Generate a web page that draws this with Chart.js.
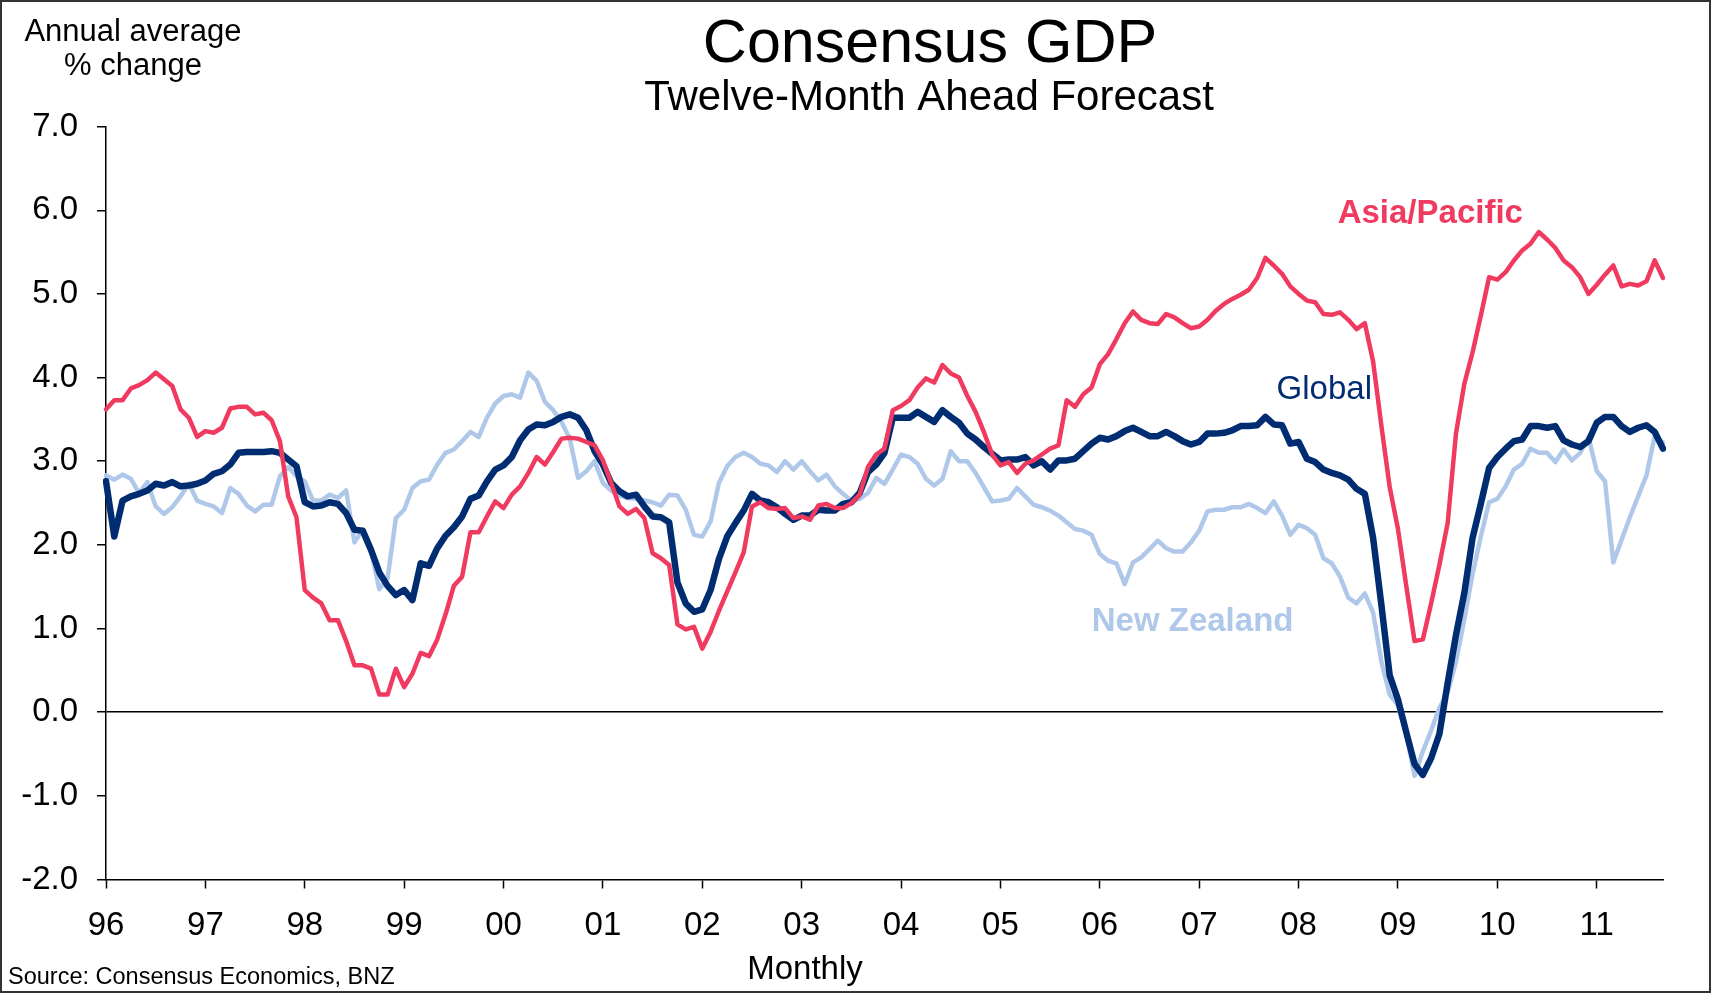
<!DOCTYPE html>
<html>
<head>
<meta charset="utf-8">
<title>Consensus GDP</title>
<script src="https://cdn.jsdelivr.net/npm/chart.js@4.4.1/dist/chart.umd.min.js"></script>
<style>
  html, body { margin: 0; padding: 0; background: #fff; }
</style>
</head>
<body>
<canvas id="gdpChart" width="1711" height="993"></canvas>
<script>
/*
  Consensus GDP - twelve-month ahead forecast
  Monthly, Jan 1996 to Sep 2011
*/

const yearLabels = ["96", "97", "98", "99", "00", "01", "02", "03", "04", "05", "06", "07", "08", "09", "10", "11"];
const monthNames = ["Jan", "Feb", "Mar", "Apr", "May", "Jun", "Jul", "Aug", "Sep", "Oct", "Nov", "Dec"];
const lastMonthOf2011 = 9; // data runs to September 2011

// Asia/Pacific (annual average % change)
const asiaPacific = [
  3.62, 3.73, 3.73, 3.87, 3.91, 3.97, 4.06, 3.98, 3.90, 3.62, 3.52, 3.29,
  3.36, 3.34, 3.40, 3.63, 3.65, 3.65, 3.56, 3.58, 3.49, 3.24, 2.58, 2.33,
  1.46, 1.37, 1.30, 1.10, 1.10, 0.85, 0.56, 0.56, 0.52, 0.21, 0.21, 0.52,
  0.30, 0.46, 0.71, 0.67, 0.87, 1.17, 1.51, 1.62, 2.15, 2.15, 2.34, 2.52,
  2.44, 2.60, 2.70, 2.86, 3.05, 2.96, 3.11, 3.27, 3.28, 3.27, 3.23, 3.19,
  3.01, 2.74, 2.46, 2.37, 2.43, 2.32, 1.90, 1.84, 1.76, 1.05, 0.99, 1.02,
  0.76, 0.96, 1.21, 1.44, 1.67, 1.91, 2.46, 2.51, 2.44, 2.43, 2.44, 2.32,
  2.34, 2.30, 2.47, 2.49, 2.44, 2.44, 2.50, 2.60, 2.93, 3.08, 3.15, 3.61,
  3.66, 3.73, 3.88, 3.99, 3.94, 4.15, 4.05, 4.00, 3.78, 3.59, 3.35, 3.08,
  2.95, 2.99, 2.86, 2.97, 3.01, 3.08, 3.15, 3.19, 3.73, 3.65, 3.80, 3.88,
  4.16, 4.28, 4.46, 4.65, 4.79, 4.69, 4.65, 4.64, 4.76, 4.72, 4.65, 4.59,
  4.61, 4.69, 4.80, 4.88, 4.94, 4.99, 5.05, 5.19, 5.43, 5.34, 5.24, 5.09,
  5.00, 4.92, 4.90, 4.76, 4.75, 4.78, 4.69, 4.58, 4.65, 4.19, 3.42, 2.69,
  2.19, 1.51, 0.85, 0.87, 1.30, 1.76, 2.26, 3.33, 3.92, 4.30, 4.74, 5.20,
  5.17, 5.26, 5.40, 5.52, 5.60, 5.74, 5.65, 5.55, 5.40, 5.32, 5.20, 5.00,
  5.11, 5.23, 5.34, 5.09, 5.12, 5.10, 5.15, 5.40, 5.19,
];

// Global
const globalGdp = [
  2.76, 2.10, 2.53, 2.58, 2.61, 2.65, 2.73, 2.71, 2.75, 2.70, 2.71, 2.73,
  2.77, 2.85, 2.88, 2.96, 3.10, 3.11, 3.11, 3.11, 3.12, 3.10, 3.02, 2.94,
  2.51, 2.46, 2.47, 2.51, 2.49, 2.38, 2.18, 2.17, 1.94, 1.67, 1.51, 1.40,
  1.46, 1.34, 1.78, 1.75, 1.96, 2.11, 2.21, 2.34, 2.55, 2.59, 2.76, 2.90,
  2.95, 3.05, 3.25, 3.38, 3.44, 3.43, 3.47, 3.53, 3.56, 3.52, 3.37, 3.12,
  2.96, 2.74, 2.64, 2.58, 2.60, 2.46, 2.34, 2.33, 2.27, 1.55, 1.30, 1.20,
  1.23, 1.46, 1.83, 2.10, 2.26, 2.41, 2.61, 2.53, 2.51, 2.45, 2.37, 2.30,
  2.35, 2.35, 2.42, 2.41, 2.41, 2.49, 2.51, 2.62, 2.87, 2.96, 3.10, 3.52,
  3.52, 3.52, 3.59, 3.53, 3.47, 3.61, 3.53, 3.46, 3.33, 3.26, 3.17, 3.09,
  3.01, 3.02, 3.02, 3.05, 2.95, 3.00, 2.90, 3.01, 3.01, 3.03, 3.12, 3.21,
  3.28, 3.26, 3.30, 3.36, 3.40, 3.35, 3.30, 3.30, 3.35, 3.30, 3.24, 3.20,
  3.23, 3.33, 3.33, 3.34, 3.37, 3.42, 3.42, 3.43, 3.53, 3.44, 3.43, 3.21,
  3.23, 3.03, 2.99, 2.90, 2.86, 2.83, 2.78, 2.67, 2.61, 2.08, 1.28, 0.44,
  0.15, -0.24, -0.62, -0.75, -0.55, -0.26, 0.35, 0.92, 1.42, 2.08, 2.49, 2.92,
  3.05, 3.15, 3.24, 3.26, 3.42, 3.42, 3.40, 3.42, 3.25, 3.20, 3.17, 3.24,
  3.46, 3.53, 3.53, 3.42, 3.35, 3.40, 3.43, 3.35, 3.15,
];

// New Zealand
const newZealand = [
  2.83, 2.78, 2.84, 2.79, 2.62, 2.75, 2.46, 2.37, 2.45, 2.58, 2.73, 2.53,
  2.49, 2.46, 2.38, 2.68, 2.61, 2.47, 2.40, 2.48, 2.48, 2.82, 2.93, 2.82,
  2.76, 2.53, 2.53, 2.60, 2.56, 2.65, 2.03, 2.18, 1.93, 1.47, 1.60, 2.32,
  2.42, 2.68, 2.76, 2.78, 2.96, 3.10, 3.14, 3.24, 3.35, 3.29, 3.52, 3.69,
  3.78, 3.80, 3.76, 4.06, 3.96, 3.71, 3.61, 3.47, 3.27, 2.80, 2.88, 3.00,
  2.74, 2.65, 2.59, 2.56, 2.55, 2.53, 2.51, 2.47, 2.60, 2.59, 2.42, 2.12,
  2.10, 2.28, 2.74, 2.94, 3.05, 3.10, 3.05, 2.97, 2.95, 2.87, 3.00, 2.90,
  3.00, 2.88, 2.77, 2.84, 2.70, 2.61, 2.53, 2.55, 2.62, 2.80, 2.73, 2.90,
  3.08, 3.05, 2.97, 2.79, 2.71, 2.79, 3.12, 3.00, 3.00, 2.86, 2.69, 2.52,
  2.53, 2.55, 2.68, 2.58, 2.48, 2.45, 2.41, 2.35, 2.27, 2.19, 2.17, 2.12,
  1.89, 1.81, 1.78, 1.53, 1.79, 1.85, 1.95, 2.05, 1.96, 1.92, 1.92, 2.03,
  2.17, 2.40, 2.42, 2.42, 2.45, 2.45, 2.49, 2.44, 2.38, 2.52, 2.35, 2.12,
  2.24, 2.20, 2.12, 1.84, 1.78, 1.62, 1.37, 1.30, 1.42, 1.19, 0.60, 0.21,
  0.08, -0.26, -0.76, -0.47, -0.22, 0.05, 0.24, 0.60, 1.10, 1.65, 2.10, 2.51,
  2.55, 2.70, 2.90, 2.97, 3.15, 3.10, 3.10, 2.99, 3.14, 3.01, 3.10, 3.29,
  2.88, 2.76, 1.79, 2.06, 2.33, 2.58, 2.83, 3.30, 3.22,
];

// Month categories: Jan-96 ... Sep-11
const months = [];
yearLabels.forEach((yy, yearIndex) => {
  const count = yearIndex === yearLabels.length - 1 ? lastMonthOf2011 : 12;
  for (let m = 0; m < count; m++) months.push(`${monthNames[m]}-${yy}`);
});

const COLORS = {
  asia: "#f03a5f",
  global: "#002d72",
  nz: "#afc8ea",
};

const FONT = "'Liberation Sans', Arial, Helvetica, sans-serif";

/**
 * Titles, axis notes and the in-plot series labels.
 */
const chartTextPlugin = {
  id: "chartText",
  beforeDraw(chart) {
    const { ctx, width, height } = chart;
    ctx.save();
    ctx.fillStyle = "#ffffff";
    ctx.fillRect(0, 0, width, height);
    ctx.restore();
  },
  afterDraw(chart) {
    const { ctx, width, height } = chart;
    const xScale = chart.scales.x;
    const yScale = chart.scales.y;

    const text = (str, x, y, size, opts = {}) => {
      ctx.font = `${opts.weight || "normal"} ${size}px ${FONT}`;
      ctx.fillStyle = opts.color || "#000";
      ctx.textAlign = opts.align || "center";
      ctx.textBaseline = opts.baseline || "alphabetic";
      ctx.fillText(str, x, y);
    };

    ctx.save();
    text("Consensus GDP", 930, 62, 61);
    text("Twelve-Month Ahead Forecast", 929, 110, 42);
    text("Annual average", 133, 41, 31);
    text("% change", 133, 75, 31);
    text("Monthly", 805, 979, 33);
    text("Source: Consensus Economics, BNZ", 8, 984, 23.5, { align: "left" });

    // Series names sit inside the plot, placed in data units
    const seriesNames = [
      { str: "Asia/Pacific", at: [159.9, 5.955], color: COLORS.asia, weight: "bold" },
      { str: "Global", at: [147.1, 3.85], color: COLORS.global, weight: "normal" },
      { str: "New Zealand", at: [131.2, 1.08], color: COLORS.nz, weight: "bold" },
    ];
    seriesNames.forEach((s) => {
      text(s.str, xScale.getPixelForValue(s.at[0]), yScale.getPixelForValue(s.at[1]), 33, {
        color: s.color,
        weight: s.weight,
        baseline: "middle",
      });
    });

    // Frame round the whole picture
    ctx.strokeStyle = "#333";
    ctx.lineWidth = 2;
    ctx.strokeRect(1, 1, width - 2, height - 2);
    ctx.restore();
  },
};

function lineDataset(label, data, color, width) {
  return {
    label,
    data,
    borderColor: color,
    backgroundColor: color,
    borderWidth: width,
    pointRadius: 0,
    tension: 0,
    fill: false,
    borderJoinStyle: "round",
    borderCapStyle: "round",
  };
}

new Chart(document.getElementById("gdpChart"), {
  type: "line",
  data: {
    labels: months,
    datasets: [
      lineDataset("Asia/Pacific", asiaPacific, COLORS.asia, 4.5),
      lineDataset("Global", globalGdp, COLORS.global, 6.5),
      lineDataset("New Zealand", newZealand, COLORS.nz, 4.5),
    ],
  },
  options: {
    responsive: false,
    animation: false,
    layout: { padding: { top: 126.6, right: 48, bottom: 0, left: 0 } },
    plugins: {
      legend: { display: false },
      tooltip: { enabled: false },
      title: { display: false },
    },
    scales: {
      x: {
        type: "category",
        offset: false,
        afterFit: (scale) => { scale.height = 113.5; },
        border: { display: true, color: "#000", width: 1.5 },
        grid: {
          drawOnChartArea: false,
          drawTicks: true,
          tickLength: 9,
          tickColor: "#000",
          tickWidth: 1.5,
        },
        ticks: {
          autoSkip: false,
          maxRotation: 0,
          minRotation: 0,
          padding: 18,
          color: "#000",
          font: { family: FONT, size: 33 },
          callback: (value, index) => (index % 12 === 0 ? yearLabels[index / 12] : null),
        },
      },
      y: {
        min: -2,
        max: 7,
        afterFit: (scale) => { scale.width = 106; },
        border: { display: true, color: "#000", width: 1.5 },
        grid: {
          drawOnChartArea: true,
          drawTicks: true,
          tickLength: 9,
          tickColor: "#000",
          lineWidth: 1.5,
          color: (ctx) => (ctx.tick && ctx.tick.value === 0 ? "#000" : "rgba(0,0,0,0)"),
        },
        ticks: {
          stepSize: 1,
          padding: 19,
          color: "#000",
          font: { family: FONT, size: 33 },
          callback: (value) => value.toFixed(1),
        },
      },
    },
  },
  plugins: [chartTextPlugin],
});
</script>
</body>
</html>
